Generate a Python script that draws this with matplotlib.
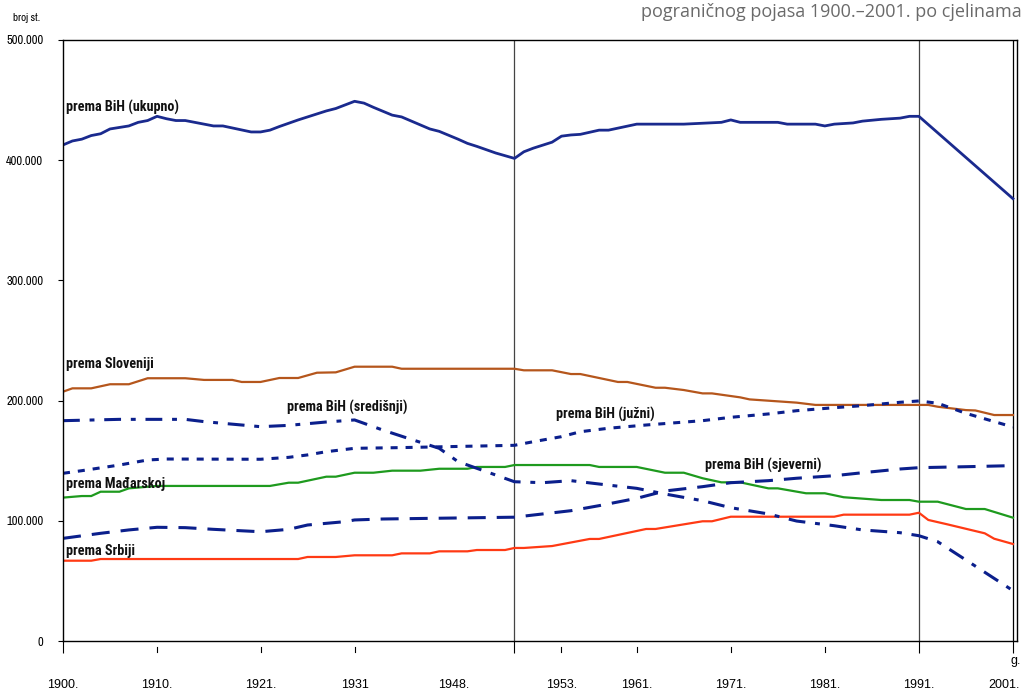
import matplotlib
matplotlib.use("Agg")
import matplotlib.pyplot as plt
from matplotlib import transforms
from matplotlib import font_manager as fm

# ---------------- data (persons) ----------------
census_years = [1900, 1910, 1921, 1931, 1948, 1953, 1961, 1971, 1981, 1991, 2001]
census_labels = ["1900.", "1910.", "1921.", "1931", "1948.", "1953.", "1961.",
                 "1971.", "1981.", "1991.", "2001."]

ukupno_years = [1900, 1901, 1902, 1903, 1904, 1905, 1907, 1908, 1909, 1910, 1911, 1912,
                1913, 1916, 1917, 1920, 1921, 1922, 1923, 1925, 1926, 1928, 1929, 1931,
                1932, 1933, 1935, 1936, 1939, 1940, 1942, 1943, 1944, 1946, 1948, 1949,
                1950, 1952, 1953, 1954, 1955, 1957, 1958, 1961, 1966, 1970, 1971, 1972,
                1976, 1977, 1980, 1981, 1982, 1984, 1985, 1987, 1989, 1990, 1991, 2001]
ukupno_vals = [412700, 416000, 417500, 420500, 422000, 426000, 428500, 431500, 433000,
               436500, 434500, 433000, 433000, 428500, 428500, 423500, 423500, 425000,
               428000, 433500, 436000, 441000, 443000, 449000, 447500, 444000, 437500,
               436000, 426000, 424000, 417500, 414000, 411500, 406000, 401500, 407000,
               410000, 415000, 420000, 421000, 421500, 425000, 425000, 430000, 430000,
               431500, 433500, 431500, 431500, 430000, 430000, 428500, 430000, 431000,
               432500, 434000, 435000, 436500, 436500, 368000]

slo_years = [1900, 1901, 1903, 1905, 1907, 1909, 1913, 1915, 1918, 1919, 1921, 1923,
             1925, 1927, 1929, 1931, 1935, 1936, 1948, 1949, 1952, 1954, 1955, 1957,
             1959, 1960, 1963, 1964, 1966, 1968, 1969, 1972, 1973, 1978, 1980, 1991,
             1992, 1993, 1996, 1997, 1999, 2001]
slo_vals = [207400, 210200, 210200, 213600, 213600, 218600, 218600, 217200, 217200,
            215500, 215500, 218800, 218800, 223200, 223500, 228200, 228200, 226500,
            226500, 225200, 225200, 222100, 222100, 218800, 215500, 215500, 210700,
            210700, 208800, 206000, 206000, 202700, 201000, 198300, 196400, 196400,
            196400, 194900, 192100, 191800, 188000, 188000]

srb_years = [1900, 1903, 1904, 1925, 1926, 1929, 1931, 1935, 1936, 1939, 1940, 1943,
             1944, 1947, 1948, 1949, 1952, 1956, 1957, 1962, 1963, 1968, 1969, 1971,
             1982, 1983, 1990, 1991, 1992, 1994, 1998, 1999, 2001]
srb_vals = [66800, 66800, 68200, 68200, 69900, 69900, 71300, 71300, 72900, 72900, 74600,
            74600, 75700, 75700, 77400, 77400, 79000, 84900, 84900, 93200, 93200, 99600,
            99600, 103400, 103400, 105100, 105100, 106700, 100700, 97100, 89600, 85100,
            80700]

mad_years = [1900, 1902, 1903, 1904, 1906, 1907, 1910, 1922, 1924, 1925, 1928, 1929,
             1931, 1933, 1935, 1938, 1940, 1943, 1944, 1947, 1948, 1956, 1957, 1961,
             1964, 1966, 1968, 1970, 1972, 1975, 1976, 1979, 1981, 1983, 1987, 1990,
             1991, 1993, 1996, 1998, 2001]
mad_vals = [119300, 120600, 120600, 124200, 124200, 127000, 129000, 129000, 131700,
            131700, 136700, 136700, 140000, 140000, 141700, 141700, 143300, 143300,
            144800, 144800, 146400, 146400, 144800, 144800, 140000, 140000, 135400,
            132000, 132000, 127000, 127000, 122900, 122900, 119600, 117300, 117300,
            115900, 115900, 109800, 109800, 102600]

sred_years = [1900, 1906, 1913, 1915, 1917, 1921, 1924, 1928, 1931, 1934, 1937, 1940,
              1942, 1945, 1948, 1951, 1954, 1957, 1961, 1964, 1968, 1971, 1975, 1978,
              1982, 1985, 1989, 1991, 1993, 1996, 2001]
sred_vals = [183300, 184400, 184400, 182500, 181100, 178300, 179400, 182200, 183900,
             175500, 167800, 160300, 149200, 140900, 132500, 131700, 133400, 130600,
             127000, 122300, 116700, 110900, 105700, 99800, 95900, 92400, 90100, 87600,
             82600, 67400, 41900]

juz_years = [1900, 1902, 1906, 1909, 1911, 1921, 1924, 1926, 1928, 1931, 1936, 1941,
             1948, 1950, 1953, 1955, 1958, 1962, 1968, 1971, 1975, 1978, 1982, 1985,
             1989, 1991, 1993, 1996, 2001]
juz_vals = [139500, 141700, 146400, 150600, 151400, 151200, 152800, 154800, 157500,
            160300, 160900, 161700, 162800, 165800, 170000, 174100, 177000, 179700,
            183300, 186100, 188900, 191600, 194100, 195800, 198600, 199700, 197800,
            189400, 178000]

sje_years = [1900, 1904, 1907, 1910, 1913, 1916, 1921, 1924, 1926, 1930, 1931, 1934,
             1948, 1951, 1954, 1957, 1961, 1964, 1968, 1971, 1975, 1978, 1982, 1985,
             1989, 1991, 1996, 2001]
sje_vals = [85400, 89600, 92400, 94600, 94300, 92900, 90900, 92900, 96500, 99300,
            100700, 101500, 103000, 105700, 108400, 112600, 118700, 124800, 128400,
            131700, 133400, 135400, 137500, 140000, 143100, 144200, 145000, 145900]

y_ticks = [0, 100000, 200000, 300000, 400000, 500000]
y_tick_labels = ["0", "100.000", "200.000", "300.000", "400.000", "500.000"]

# ---------------- fonts ----------------
_names = {f.name for f in fm.fontManager.ttflist}

def pick(cands, fallback):
    c = next((n for n in cands if n in _names), None)
    return ([c, "DejaVu Sans"], 1.0) if c else ([fallback, "DejaVu Sans"], 0.86)

NARROW, nscale = pick(["Archivo Narrow", "PT Sans Narrow", "Roboto Condensed",
                       "Liberation Sans Narrow"], "Liberation Sans")
BOLDN, bscale = pick(["Roboto Condensed", "PT Sans Narrow", "Archivo Narrow",
                      "Liberation Sans Narrow"], "Liberation Sans")
REG = ["Liberation Sans", "DejaVu Sans"]
plt.rcParams["font.family"] = NARROW

W, H = 1026, 694
fig = plt.figure(figsize=(W / 100, H / 100), dpi=100)
fig.patch.set_facecolor("white")
ax = fig.add_axes([63 / W, 53 / H, 954 / W, 601 / H])
ax.set_xlim(1900, 2001.43)
ax.set_ylim(0, 500000)

for s in ax.spines.values():
    s.set_linewidth(1.0)
    s.set_color("black")

DASHNAVY = "#0b1f8c"

ax.plot(ukupno_years, ukupno_vals, color="#1a2a8e", lw=2.0, solid_joinstyle="round")
ax.plot(slo_years, slo_vals, color="#b5561c", lw=1.6)
ax.plot(mad_years, mad_vals, color="#1e9a1e", lw=1.6)
ax.plot(srb_years, srb_vals, color="#ff3a14", lw=1.6)
ax.plot(sred_years, sred_vals, color=DASHNAVY, lw=2.2, dashes=(5.5, 3.2, 1.6, 3.2))
ax.plot(juz_years, juz_vals, color=DASHNAVY, lw=2.2, dashes=(2.3, 2.6))
ax.plot(sje_years, sje_vals, color=DASHNAVY, lw=2.2, dashes=(5.9, 3.6))

for yr, col in [(1948, "#444444"), (1991, "#444444"), (2001, "black")]:
    ax.axvline(yr, color=col, lw=0.9, zorder=1)

ax.set_yticks(y_ticks)
ax.set_yticklabels(y_tick_labels, fontsize=9 * nscale, family=NARROW)
ax.tick_params(axis="y", direction="out", length=3.6, width=0.8, pad=10.5)

long_ticks = [1900, 1948, 1991, 2001]
ax.set_xticks(long_ticks)
ax.set_xticklabels([""] * len(long_ticks))
ax.tick_params(axis="x", direction="out", length=8.6, width=0.8)

trans = transforms.blended_transform_factory(ax.transData, ax.transAxes)
for yr in census_years:
    if yr not in long_ticks:
        ax.plot([yr, yr], [-6 / 601, -11 / 601], color="black", lw=0.8,
                transform=trans, clip_on=False)

label_shift = {1948: -6.5, 2001: -0.9}
for yr, lab in zip(census_years, census_labels):
    ax.text(yr + label_shift.get(yr, 0.0), -44 / 601, lab, transform=trans,
            ha="center", va="center", fontsize=9, family=REG)
ax.text(2001.3, -20 / 601, "g.", transform=trans, ha="center", va="center",
        fontsize=9, family=REG)

def px2data(px, py):
    return 1900 + (px - 63) / 9.406, (641 - py) / 601 * 500000

lab_kw = dict(fontsize=10.2 * bscale, fontweight="bold", family=BOLDN, va="center",
              ha="left", color="#111111")
for text, (px, py) in [("prema BiH (ukupno)", (66, 107)),
                       ("prema Sloveniji", (66, 364)),
                       ("prema BiH (središnji)", (287, 407)),
                       ("prema BiH (južni)", (556, 414)),
                       ("prema BiH (sjeverni)", (705, 465)),
                       ("prema Mađarskoj", (66, 484)),
                       ("prema Srbiji", (66, 551))]:
    x, y = px2data(px, py)
    ax.text(x, y, text, **lab_kw)

fig.text(13 / W, 1 - 18 / H, "broj st.", fontsize=8 * nscale, family=NARROW,
         ha="left", va="center")
fig.text(1022 / W, 1 - 12 / H, "pograničnog pojasa 1900.–2001. po cjelinama",
         fontsize=13, color="#6a6a6a", ha="right", va="center",
         family=["Open Sans", "DejaVu Sans"])

fig.savefig("out.png", dpi=100, facecolor="white")
